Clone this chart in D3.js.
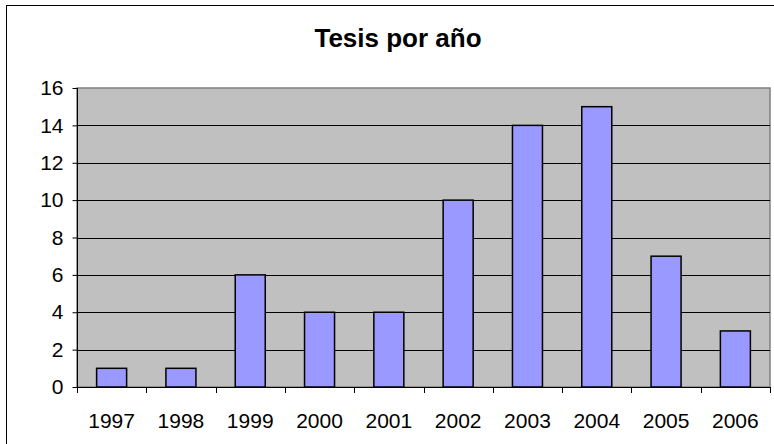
<!DOCTYPE html>
<html>
<head>
<meta charset="utf-8">
<script src="https://cdn.jsdelivr.net/npm/d3@7"></script>
<style>
  body { margin: 0; background: #fff; }
  svg { display: block; font-family: "Liberation Sans", Arial, sans-serif; }
</style>
</head>
<body>
<svg id="chart" width="774" height="444"></svg>
<script>
// Data
const years = ["1997", "1998", "1999", "2000", "2001", "2002", "2003", "2004", "2005", "2006"];
const tesis = [1, 1, 6, 4, 4, 10, 14, 15, 7, 3];
const yTicks = [0, 2, 4, 6, 8, 10, 12, 14, 16];
const title = "Tesis por año";

const FONT = "'Liberation Sans', Arial, sans-serif";
const svg = d3.select("#chart");

// outer chart frame (cropped at right and bottom in the original)
svg.append("rect")
    .attr("x", 6.5).attr("y", 5.5)
    .attr("width", 800).attr("height", 500)
    .attr("fill", "#fff")
    .attr("stroke", "#000")
    .attr("stroke-width", 1);

const plot = { left: 77, right: 770, top: 88, bottom: 387 };

let x = d3.scaleBand()
    .domain(years)
    .range([plot.left, plot.right])
    .paddingInner(0.567)
    .paddingOuter(0.283);

let y = d3.scaleLinear()
    .domain([0, 16])
    .range([plot.bottom, plot.top]);

// plot area background
svg.append("rect")
    .attr("x", plot.left).attr("y", plot.top)
    .attr("width", plot.right - plot.left)
    .attr("height", plot.bottom - plot.top)
    .attr("fill", "#c0c0c0")
    .attr("stroke", "#808080")
    .attr("stroke-width", 1.5);

// gridlines
svg.append("g")
    .selectAll("line")
    .data(yTicks.filter(d => d > 0 && d < 16))
    .enter().append("line")
    .attr("x1", plot.left).attr("x2", plot.right)
    .attr("y1", d => Math.round(y(d)) + 0.5)
    .attr("y2", d => Math.round(y(d)) + 0.5)
    .attr("stroke", "#000")
    .attr("stroke-width", 1);

// bars
svg.append("g")
    .selectAll("rect")
    .data(tesis)
    .enter().append("rect")
    .attr("x", (d, i) => x(years[i]))
    .attr("y", d => y(d))
    .attr("width", x.bandwidth())
    .attr("height", d => y(0) - y(d))
    .attr("fill", "#9999ff")
    .attr("stroke", "#000")
    .attr("stroke-width", 1.5);

// y axis
let yAxis = d3.axisLeft(y)
    .tickValues(yTicks)
    .tickSize(5)
    .tickPadding(9);

svg.append("g")
    .attr("transform", "translate(" + (plot.left + 0.5) + ",0)")
    .call(yAxis)
    .call(g => g.select(".domain").attr("stroke", "#000").attr("d", "M0," + plot.top + "V" + plot.bottom))
    .call(g => g.selectAll(".tick text").attr("font-size", "21px").attr("fill", "#000").attr("font-family", FONT));

// x axis: ticks sit between categories
svg.append("line")
    .attr("x1", plot.left).attr("x2", plot.right)
    .attr("y1", plot.bottom + 0.5).attr("y2", plot.bottom + 0.5)
    .attr("stroke", "#000")
    .attr("stroke-width", 1.2);

let step = x.step();
svg.append("g")
    .selectAll("line")
    .data(years.concat(["end"]))
    .enter().append("line")
    .attr("x1", (d, i) => Math.round(plot.left + i * step) + 0.5)
    .attr("x2", (d, i) => Math.round(plot.left + i * step) + 0.5)
    .attr("y1", plot.bottom)
    .attr("y2", plot.bottom + 6)
    .attr("stroke", "#000");

svg.append("g")
    .selectAll("text")
    .data(years)
    .enter().append("text")
    .attr("x", d => x(d) + x.bandwidth() / 2)
    .attr("y", 428)
    .attr("text-anchor", "middle")
    .attr("font-size", "21px")
    .attr("font-family", FONT)
    .attr("fill", "#000")
    .text(d => d);

// title
svg.append("text")
    .attr("x", 398)
    .attr("y", 47)
    .attr("text-anchor", "middle")
    .attr("font-size", "26px")
    .attr("font-weight", "bold")
    .attr("font-family", FONT)
    .attr("fill", "#000")
    .text(title);
</script>
</body>
</html>
